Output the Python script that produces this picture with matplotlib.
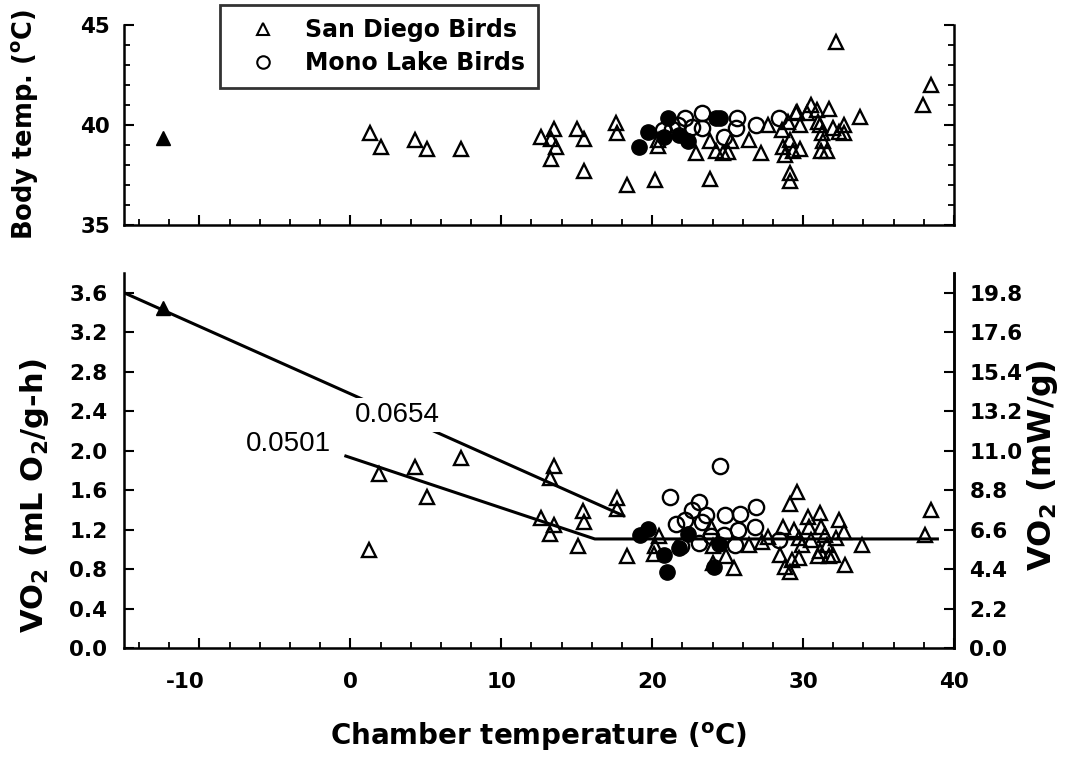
import numpy as np
import matplotlib
matplotlib.use('Agg')
import matplotlib.pyplot as plt
import matplotlib.transforms as mtransforms
from matplotlib.ticker import MultipleLocator, FormatStrFormatter
from matplotlib.lines import Line2D

plt.rcParams['font.family'] = ['DejaVu Sans']
plt.rcParams['font.weight'] = 'bold'
plt.rcParams['axes.unicode_minus'] = False
plt.rcParams['mathtext.fontset'] = 'custom'
plt.rcParams['mathtext.rm'] = 'DejaVu Sans:bold'
plt.rcParams['mathtext.it'] = 'DejaVu Sans:bold'
plt.rcParams['mathtext.bf'] = 'DejaVu Sans:bold'

# ---------------- data: top panel (body temperature) ----------------
sd_tb_x = [1.3, 2.0, 4.3, 5.1, 7.3, 12.65, 13.5, 13.3, 13.6, 13.3, 15.0, 15.5, 15.5,
           17.6, 17.7, 18.3, 20.2, 20.4, 20.4, 22.9, 23.8, 23.8, 24.2, 24.7, 25.0,
           25.2, 26.4, 27.2, 27.7, 28.6, 28.7, 28.8, 29.15, 29.3, 29.15, 29.15, 29.6,
           29.8, 29.8, 30.25, 30.5, 30.9, 31.1, 31.25, 31.35, 31.2, 31.6, 31.7, 32.0,
           32.35, 32.7, 32.7, 32.2, 33.8, 37.95, 38.45, 29.0, 29.5, 31.0]
sd_tb_y = [39.6, 38.9, 39.25, 38.8, 38.8, 39.4, 39.8, 39.3, 38.9, 38.3, 39.8, 39.3, 37.7,
           40.1, 39.6, 37.0, 37.25, 39.25, 38.95, 38.6, 37.3, 39.2, 38.7, 38.6, 38.65,
           39.2, 39.25, 38.6, 40.0, 39.75, 38.9, 38.5, 39.25, 38.7, 37.6, 37.2, 40.65,
           40.0, 38.8, 40.6, 41.0, 40.75, 40.0, 39.6, 39.2, 38.7, 38.7, 40.8, 39.85,
           39.65, 40.0, 39.6, 44.15, 40.4, 41.0, 42.0, 40.15, 40.6, 40.15]
cold_tb_x = [-12.4]
cold_tb_y = [39.35]
ml_open_tb_x = [20.7, 21.7, 22.2, 22.65, 23.3, 23.3, 24.75, 25.6, 25.55, 26.85, 28.4, 21.3]
ml_open_tb_y = [39.75, 40.0, 40.35, 39.9, 40.6, 39.85, 39.4, 40.35, 39.85, 40.0, 40.35, 39.8]
ml_fill_tb_x = [19.15, 19.7, 20.8, 21.05, 21.8, 22.35, 24.2, 24.5]
ml_fill_tb_y = [38.9, 39.65, 39.4, 40.35, 39.5, 39.2, 40.35, 40.35]

# ---------------- data: bottom panel (VO2) ----------------
sd_vo_x = [1.21, 1.93, 4.29, 5.06, 7.3, 12.65, 13.5, 13.25, 13.5, 13.2, 15.07, 15.4, 15.5,
           17.7, 17.65, 18.35, 20.46, 20.2, 20.1, 23.9, 24.0, 24.0, 24.9, 25.4, 26.4,
           27.3, 27.7, 28.7, 28.5, 28.8, 29.15, 29.25, 29.7, 29.15, 29.6, 29.4, 29.7,
           29.9, 30.3, 30.4, 30.55, 31.1, 31.2, 31.1, 31.0, 31.45, 31.6, 31.7, 32.35,
           32.7, 32.2, 32.0, 32.8, 33.9, 38.05, 38.5]
sd_vo_y = [0.99, 1.765, 1.83, 1.53, 1.93, 1.315, 1.84, 1.72, 1.25, 1.16, 1.03, 1.39, 1.28,
           1.52, 1.41, 0.93, 1.13, 1.03, 0.95, 1.23, 0.86, 1.03, 0.93, 0.81, 1.045,
           1.07, 1.12, 1.23, 0.94, 0.82, 0.77, 0.89, 0.91, 1.46, 1.585, 1.2, 1.11,
           1.045, 1.33, 1.23, 1.095, 1.365, 1.23, 0.98, 0.93, 1.146, 1.045, 0.93, 1.30,
           1.18, 1.11, 0.94, 0.84, 1.045, 1.146, 1.40]
cold_vo_x = [-12.4]
cold_vo_y = [3.45]
ml_open_vo_x = [24.5, 21.2, 23.1, 22.65, 23.55, 23.3, 21.55, 22.2, 24.85, 25.8, 26.85,
                26.8, 25.7, 24.75, 23.9, 23.1, 25.5, 21.9, 28.4]
ml_open_vo_y = [1.84, 1.53, 1.48, 1.40, 1.35, 1.28, 1.26, 1.30, 1.35, 1.36, 1.43,
                1.23, 1.20, 1.146, 1.13, 1.06, 1.045, 1.03, 1.095]
ml_fill_vo_x = [19.2, 19.7, 20.75, 21.0, 21.8, 22.35, 24.1, 24.4]
ml_fill_vo_y = [1.15, 1.21, 0.94, 0.77, 1.01, 1.16, 0.82, 1.05]

# regression lines
line_hi_x = [-15.0, 18.1]
line_hi_y = [3.60, 1.34]
line_lo_x = [-0.3, 16.2, 38.9]
line_lo_y = [1.945, 1.105, 1.105]
slope_labels = ['0.0654', '0.0501']
slope_label_x = [3.1, -4.1]
slope_label_y = [2.36, 2.07]

mw_factor = 5.5  # mL O2/g-h -> mW/g

W, H = 1070, 759
fig = plt.figure(figsize=(W / 100, H / 100), dpi=100)

ax_t = fig.add_axes([124 / W, 1 - 225 / H, 830 / W, 200 / H])
ax_b = fig.add_axes([124 / W, 1 - 648 / H, 830 / W, 375 / H])

tri_kw = dict(marker='^', ms=10.5, mfc='none', mec='black', mew=1.7, ls='none', zorder=3)
ocirc_kw = dict(marker='o', ms=11, mfc='none', mec='black', mew=1.7, ls='none', zorder=4)
fcirc_kw = dict(marker='o', ms=11, mfc='black', mec='black', mew=1.0, ls='none', zorder=5)
ftri_kw = dict(marker='^', ms=10.5, mfc='black', mec='black', mew=1.0, ls='none', zorder=5)

# top panel
ax_t.plot(sd_tb_x, sd_tb_y, **tri_kw)
ax_t.plot(ml_open_tb_x, ml_open_tb_y, **ocirc_kw)
ax_t.plot(ml_fill_tb_x, ml_fill_tb_y, **fcirc_kw)
ax_t.plot(cold_tb_x, cold_tb_y, **ftri_kw)

# bottom panel
ax_b.plot(line_hi_x, line_hi_y, color='black', lw=2.2, zorder=2)
ax_b.plot(line_lo_x, line_lo_y, color='black', lw=2.2, zorder=2)
ax_b.plot(sd_vo_x, sd_vo_y, **tri_kw)
ax_b.plot(ml_open_vo_x, ml_open_vo_y, **ocirc_kw)
ax_b.plot(ml_fill_vo_x, ml_fill_vo_y, **fcirc_kw)
ax_b.plot(cold_vo_x, cold_vo_y, **ftri_kw)
for s, lx, ly in zip(slope_labels, slope_label_x, slope_label_y):
    ax_b.text(lx, ly, s, ha='center', va='center', fontsize=20, fontweight='normal',
              family=['Liberation Sans'], zorder=6,
              bbox=dict(facecolor='white', edgecolor='none', pad=3))

# axes styling
for ax in (ax_t, ax_b):
    ax.set_xlim(-15, 40)
    ax.spines['top'].set_visible(False)
    for sp in ('left', 'right', 'bottom'):
        ax.spines[sp].set_linewidth(1.8)
    ax.xaxis.set_major_locator(MultipleLocator(10))
    ax.xaxis.set_minor_locator(MultipleLocator(2))
    ax.tick_params(axis='both', which='major', direction='in', length=7, width=1.5,
                   labelsize=15.5)
    ax.tick_params(axis='both', which='minor', direction='in', length=4, width=1.3)

ax_t.set_ylim(35, 45)
ax_t.yaxis.set_major_locator(MultipleLocator(5))
ax_t.yaxis.set_minor_locator(MultipleLocator(1))
ax_t.tick_params(axis='y', which='both', right=True)
ax_t.tick_params(axis='y', which='major', pad=10)
ax_t.tick_params(axis='x', which='both', labelbottom=False)

ax_b.set_ylim(0, 3.8)
ax_b.set_yticks(np.arange(0, 3.61, 0.4))
ax_b.yaxis.set_major_formatter(FormatStrFormatter('%.1f'))
ax_b.tick_params(axis='y', which='major', pad=12)
ax_b.tick_params(axis='x', which='major', pad=17)

ax_r = ax_b.twinx()
ax_r.set_ylim(0, 3.8 * mw_factor)
ax_r.set_yticks(np.arange(0, 3.61, 0.4) * mw_factor)
ax_r.yaxis.set_major_formatter(FormatStrFormatter('%.1f'))
ax_r.spines['top'].set_visible(False)
ax_r.spines['right'].set_linewidth(1.8)
ax_r.tick_params(axis='y', direction='in', length=7, width=1.5, labelsize=15.5, pad=11)

# axis labels
fig.text(25 / W, 1 - 125 / H, 'Body temp. ($^{\\rm o}$C)', rotation=90,
         ha='center', va='center', fontsize=18.5, fontweight='bold')
fig.text(35 / W, 1 - 496 / H, 'VO$_2$ (mL O$_2$/g-h)', rotation=90,
         ha='center', va='center', fontsize=22, fontweight='bold')
fig.text(1042 / W, 1 - 465 / H, 'VO$_2$ (mW/g)', rotation=90,
         ha='center', va='center', fontsize=23, fontweight='bold')
fig.text(538 / W, 1 - 737 / H, 'Chamber temperature ($^{\\rm o}$C)',
         ha='center', va='center', fontsize=20, fontweight='bold')

# legend
handles = [Line2D([], [], marker='^', ms=9, mfc='none', mec='black', mew=1.5, ls='none'),
           Line2D([], [], marker='o', ms=9, mfc='none', mec='black', mew=1.5, ls='none')]
leg = fig.legend(handles, ['San Diego Birds', 'Mono Lake Birds'], loc='upper left',
                 bbox_to_anchor=(220 / W, 1 - 5 / H), borderaxespad=0, fontsize=17,
                 frameon=True, fancybox=False, edgecolor='black', handletextpad=0.55,
                 borderpad=0.55, labelspacing=0.4, handlelength=2.5)
leg.get_frame().set_linewidth(2)
for t in leg.get_texts():
    t.set_fontweight('bold')

# negative tick label sits slightly left of its tick in the reference
fig.canvas.draw()
for lab in ax_b.get_xticklabels():
    if lab.get_text().startswith('-'):
        lab.set_transform(lab.get_transform() +
                          mtransforms.ScaledTranslation(-0.14, 0, fig.dpi_scale_trans))

fig.savefig('out.png', dpi=100)
